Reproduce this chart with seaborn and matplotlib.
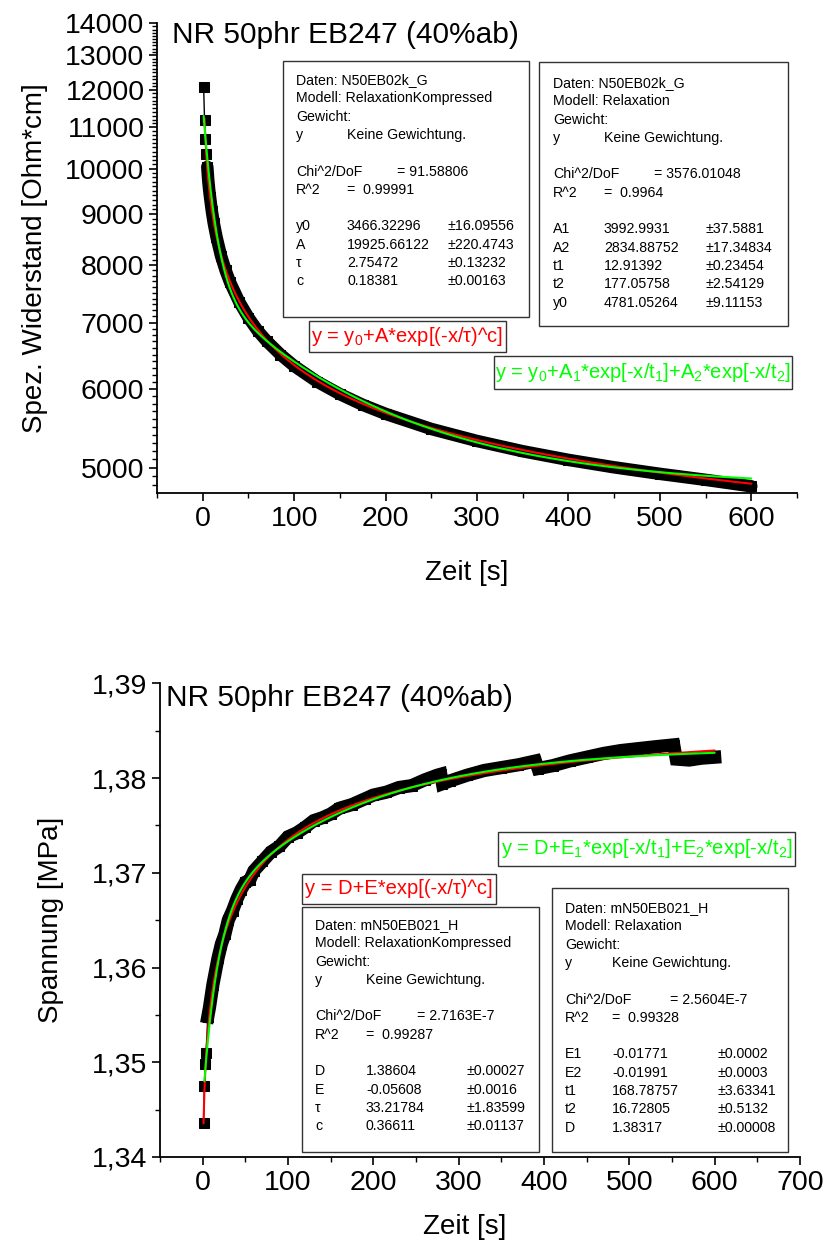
import numpy as np
import pandas as pd
import matplotlib
matplotlib.use("Agg")
import matplotlib.pyplot as plt
import seaborn as sns
from matplotlib.ticker import FixedLocator, MultipleLocator, NullFormatter, FixedFormatter
from matplotlib.patches import Rectangle

# ---------------- data ----------------
title = "NR 50phr EB247 (40%ab)"
xlabel = "Zeit [s]"
ylabel_top = "Spez. Widerstand [Ohm*cm]"
ylabel_bot = "Spannung [MPa]"

# top panel: measured resistivity
top_t = [1, 2, 3, 4, 5, 6, 7, 8, 10, 12, 15, 20, 25, 30, 40, 50, 60, 70, 85, 100,
         125, 150, 175, 200, 250, 300, 350, 400, 450, 500, 550, 600]
top_r = [12080, 11200, 10720, 10350, 10040, 9740, 9530, 9360, 9060, 8820, 8540, 8170,
         7900, 7680, 7340, 7080, 6870, 6705, 6500, 6330, 6105, 5930, 5785, 5665, 5470,
         5320, 5195, 5092, 5005, 4930, 4862, 4790]

# top fit parameters
top_kw = dict(y0=3466.32296, A=19925.66122, tau=2.75472, c=0.18381)
top_exp2 = dict(A1=3992.9931, A2=2834.88752, t1=12.91392, t2=177.05758, y0=4781.05264)

# bottom panel: measured stress
bot_t = [1, 2, 3, 4, 6, 8, 10, 12, 15, 18, 22, 26, 30, 35, 40, 45, 50, 55, 60, 70,
         80, 90, 100, 110, 120, 130, 140, 150, 160, 175, 190, 200, 215, 230, 245, 260,
         275, 279, 281, 290, 310, 330, 350, 370, 390, 393, 410, 430, 450, 470, 490,
         510, 530, 552, 555, 570, 585, 600]
bot_s = [1.3436, 1.3475, 1.3498, 1.3510, 1.3548, 1.3558, 1.3570, 1.3582, 1.3596, 1.3610,
         1.3625, 1.3635, 1.3650, 1.3660, 1.3672, 1.3682, 1.3690, 1.3692, 1.3702, 1.3712,
         1.3722, 1.3728, 1.3738, 1.3742, 1.3748, 1.3755, 1.3758, 1.3762, 1.3768, 1.3772,
         1.3778, 1.3782, 1.3785, 1.3790, 1.3792, 1.3798, 1.3803, 1.3804, 1.3794, 1.3797,
         1.3803, 1.3808, 1.3811, 1.3814, 1.3818, 1.3810, 1.3813, 1.3818, 1.3822, 1.3826,
         1.3829, 1.3831, 1.3833, 1.3835, 1.3820, 1.3819, 1.3821, 1.3822]

bot_kw = dict(D=1.38604, E=-0.05608, tau=33.21784, c=0.36611)
bot_exp2 = dict(E1=-0.01771, E2=-0.01991, t1=168.78757, t2=16.72805, D=1.38317)

# ticks
top_xticks = [0, 100, 200, 300, 400, 500, 600]
top_yticks = [5000, 6000, 7000, 8000, 9000, 10000, 11000, 12000, 13000, 14000]
top_ylabels = ["5000", "6000", "7000", "8000", "9000", "10000", "11000", "12000", "13000", "14000"]
bot_xticks = [0, 100, 200, 300, 400, 500, 600, 700]
bot_yticks = [1.34, 1.35, 1.36, 1.37, 1.38, 1.39]
bot_ylabels = ["1,34", "1,35", "1,36", "1,37", "1,38", "1,39"]

# fit report texts
box_top1 = [(0, [(0, "Daten: N50EB02k_G")]),
            (1, [(0, "Modell: RelaxationKompressed")]),
            (2, [(0, "Gewicht:")]),
            (3, [(0, "y"), (1, "Keine Gewichtung.")]),
            (5, [(0, "Chi^2/DoF"), (2, "= 91.58806")]),
            (6, [(0, "R^2"), (1, "=  0.99991")]),
            (8, [(0, "y0"), (1, "3466.32296"), (3, "±16.09556")]),
            (9, [(0, "A"), (1, "19925.66122"), (3, "±220.4743")]),
            (10, [(0, "τ"), (1, "2.75472"), (3, "±0.13232")]),
            (11, [(0, "c"), (1, "0.18381"), (3, "±0.00163")])]
box_top2 = [(0, [(0, "Daten: N50EB02k_G")]),
            (1, [(0, "Modell: Relaxation")]),
            (2, [(0, "Gewicht:")]),
            (3, [(0, "y"), (1, "Keine Gewichtung.")]),
            (5, [(0, "Chi^2/DoF"), (2, "= 3576.01048")]),
            (6, [(0, "R^2"), (1, "=  0.9964")]),
            (8, [(0, "A1"), (1, "3992.9931"), (3, "±37.5881")]),
            (9, [(0, "A2"), (1, "2834.88752"), (3, "±17.34834")]),
            (10, [(0, "t1"), (1, "12.91392"), (3, "±0.23454")]),
            (11, [(0, "t2"), (1, "177.05758"), (3, "±2.54129")]),
            (12, [(0, "y0"), (1, "4781.05264"), (3, "±9.11153")])]
box_bot1 = [(0, [(0, "Daten: mN50EB021_H")]),
            (1, [(0, "Modell: RelaxationKompressed")]),
            (2, [(0, "Gewicht:")]),
            (3, [(0, "y"), (1, "Keine Gewichtung.")]),
            (5, [(0, "Chi^2/DoF"), (2, "= 2.7163E-7")]),
            (6, [(0, "R^2"), (1, "=  0.99287")]),
            (8, [(0, "D"), (1, "1.38604"), (3, "±0.00027")]),
            (9, [(0, "E"), (1, "-0.05608"), (3, "±0.0016")]),
            (10, [(0, "τ"), (1, "33.21784"), (3, "±1.83599")]),
            (11, [(0, "c"), (1, "0.36611"), (3, "±0.01137")])]
box_bot2 = [(0, [(0, "Daten: mN50EB021_H")]),
            (1, [(0, "Modell: Relaxation")]),
            (2, [(0, "Gewicht:")]),
            (3, [(0, "y"), (1, "Keine Gewichtung.")]),
            (5, [(0, "Chi^2/DoF"), (2, "= 2.5604E-7")]),
            (6, [(0, "R^2"), (1, "=  0.99328")]),
            (8, [(0, "E1"), (1, "-0.01771"), (3, "±0.0002")]),
            (9, [(0, "E2"), (1, "-0.01991"), (3, "±0.0003")]),
            (10, [(0, "t1"), (1, "168.78757"), (3, "±3.63341")]),
            (11, [(0, "t2"), (1, "16.72805"), (3, "±0.5132")]),
            (12, [(0, "D"), (1, "1.38317"), (3, "±0.00008")])]

eq_top_red = r"y = y$_0$+A*exp[(-x/τ)^c]"
eq_top_green = r"y = y$_0$+A$_1$*exp[-x/t$_1$]+A$_2$*exp[-x/t$_2$]"
eq_bot_red = r"y = D+E*exp[(-x/τ)^c]"
eq_bot_green = r"y = D+E$_1$*exp[-x/t$_1$]+E$_2$*exp[-x/t$_2$]"

# ---------------- style ----------------
sns.set_theme(style="ticks")
plt.rcParams["font.family"] = ["Liberation Sans", "DejaVu Sans"]
plt.rcParams["mathtext.fontset"] = "custom"
plt.rcParams["mathtext.rm"] = "Liberation Sans"
plt.rcParams["mathtext.it"] = "Liberation Sans"
plt.rcParams["mathtext.default"] = "regular"
plt.rcParams["text.color"] = "black"
plt.rcParams["axes.labelcolor"] = "black"
plt.rcParams["xtick.color"] = "black"
plt.rcParams["ytick.color"] = "black"

RED = "#ff0000"
GREEN = "#00ff00"
W, H = 823, 1245
fig = plt.figure(figsize=(W / 100, H / 100), dpi=100)
fig.patch.set_facecolor("white")


def fx(px):
    return px / W


def fy(py):
    return 1 - py / H


ax1 = fig.add_axes([fx(157), fy(493), fx(797) - fx(157), fy(23.3) - fy(493)])
ax2 = fig.add_axes([fx(160), fy(1157), fx(800) - fx(160), fy(683.3) - fy(1157)])

# ---------------- top panel ----------------
ax1.set_yscale("log")
sns.lineplot(x=top_t, y=top_r, ax=ax1, color="black", linewidth=1.0, marker="s",
             markersize=7, markeredgecolor="black", zorder=3, legend=False)
sns.lineplot(x=top_t[4:], y=top_r[4:], ax=ax1, color="black", linewidth=9,
             zorder=3, legend=False, solid_joinstyle="round")
tr = np.linspace(2, 600, 600)
red_top = top_kw["y0"] + top_kw["A"] * np.exp(-(tr / top_kw["tau"]) ** top_kw["c"])
tg = np.linspace(1, 600, 600)
green_top = (top_exp2["y0"] + top_exp2["A1"] * np.exp(-tg / top_exp2["t1"])
             + top_exp2["A2"] * np.exp(-tg / top_exp2["t2"]))
sns.lineplot(x=tr, y=red_top, ax=ax1, color=RED, linewidth=1.5, zorder=4, legend=False)
sns.lineplot(x=tg, y=green_top, ax=ax1, color=GREEN, linewidth=1.5, zorder=5, legend=False)

ax1.set_xlim(-50, 650)
ax1.set_ylim(4716, 14000)
ax1.xaxis.set_major_locator(FixedLocator(top_xticks))
ax1.xaxis.set_minor_locator(MultipleLocator(50))
ax1.yaxis.set_major_locator(FixedLocator(top_yticks))
ax1.yaxis.set_major_formatter(FixedFormatter(top_ylabels))
ax1.yaxis.set_minor_locator(MultipleLocator(100))
ax1.yaxis.set_minor_formatter(NullFormatter())

# ---------------- bottom panel ----------------
sns.lineplot(x=bot_t, y=bot_s, ax=ax2, color="black", linewidth=1.0, marker="s",
             markersize=7, markeredgecolor="black", zorder=3, legend=False)
sns.lineplot(x=bot_t[4:], y=bot_s[4:], ax=ax2, color="black", linewidth=9.5,
             zorder=3, legend=False, solid_joinstyle="miter", solid_capstyle="projecting")
tb = np.linspace(1, 600, 600)
red_bot = bot_kw["D"] + bot_kw["E"] * np.exp(-(tb / bot_kw["tau"]) ** bot_kw["c"])
green_bot = (bot_exp2["D"] + bot_exp2["E1"] * np.exp(-tb / bot_exp2["t1"])
             + bot_exp2["E2"] * np.exp(-tb / bot_exp2["t2"]))
sns.lineplot(x=tb, y=red_bot, ax=ax2, color=RED, linewidth=1.5, zorder=4, legend=False)
sns.lineplot(x=tb[1:], y=green_bot[1:], ax=ax2, color=GREEN, linewidth=1.5, zorder=5, legend=False)

ax2.set_xlim(-50, 700)
ax2.set_ylim(1.34, 1.39)
ax2.xaxis.set_major_locator(FixedLocator(bot_xticks))
ax2.xaxis.set_minor_locator(MultipleLocator(50))
ax2.yaxis.set_major_locator(FixedLocator(bot_yticks))
ax2.yaxis.set_major_formatter(FixedFormatter(bot_ylabels))
ax2.yaxis.set_minor_locator(MultipleLocator(0.005))

# ---------------- common axis styling ----------------
for ax in (ax1, ax2):
    sns.despine(ax=ax)
    for s in ("left", "bottom"):
        ax.spines[s].set_linewidth(1.3)
        ax.spines[s].set_color("black")
    ax.tick_params(axis="both", which="major", direction="out", length=6, width=1.2,
                   labelsize=20.5, colors="black", pad=3)
    ax.tick_params(axis="both", which="minor", direction="out", length=3.5, width=1.0,
                   colors="black")
    ax.set_xlabel(xlabel, fontsize=20, color="black")
    ax.grid(False)
    ax.set_facecolor("white")

ax1.set_ylabel(ylabel_top, fontsize=20, color="black")
ax2.set_ylabel(ylabel_bot, fontsize=20, color="black")
ax1.yaxis.set_label_coords((48 - 157) / 640, 0.5)
ax2.yaxis.set_label_coords((64 - 160) / 640, 0.5)
ax1.xaxis.set_label_coords((467 - 157) / 640, -(560 - 493) / 469.7)
ax2.xaxis.set_label_coords((465 - 160) / 640, -(1214 - 1157) / 473.7)

fig.text(fx(172), fy(35), title, fontsize=21.5, va="center", ha="left", color="black")
fig.text(fx(166), fy(698), title, fontsize=21.5, va="center", ha="left", color="black")


# ---------------- fit report boxes ----------------
def report_box(x0, y0, x1, y1, row0, cols, rows, step=18.3):
    fig.patches.append(Rectangle((fx(x0), fy(y1)), fx(x1) - fx(x0), fy(y0) - fy(y1),
                                 transform=fig.transFigure, facecolor="white",
                                 edgecolor="#333333", linewidth=1.0, zorder=10))
    for i, items in rows:
        for ci, s in items:
            fig.text(fx(cols[ci]), fy(row0 + i * step + 5), s, fontsize=10.2,
                     va="baseline", ha="left", color="black", zorder=11)


def formula_box(x0, y0, x1, y1, s, color):
    fig.patches.append(Rectangle((fx(x0), fy(y1)), fx(x1) - fx(x0), fy(y0) - fy(y1),
                                 transform=fig.transFigure, facecolor="white",
                                 edgecolor="#333333", linewidth=1.0, zorder=10))
    fig.text(fx((x0 + x1) / 2), fy((y0 + y1) / 2), s, fontsize=14.5, color=color,
             va="center", ha="center", zorder=11)


report_box(283, 61, 529, 317, 79, [296, 347, 397, 447], box_top1)
report_box(539, 62, 788, 326, 82, [553, 604, 654, 705], box_top2)
report_box(302, 907, 539, 1152, 924, [315, 366, 417, 467], box_bot1)
report_box(552, 888, 788, 1152, 907, [565, 612, 670, 717], box_bot2)

formula_box(309, 321, 506, 352, eq_top_red, RED)
formula_box(494, 356, 792, 389, eq_top_green, GREEN)
formula_box(302, 874, 496, 904, eq_bot_red, RED)
formula_box(498, 832, 795, 866, eq_bot_green, GREEN)

fig.savefig("out.png", dpi=100, facecolor="white")
